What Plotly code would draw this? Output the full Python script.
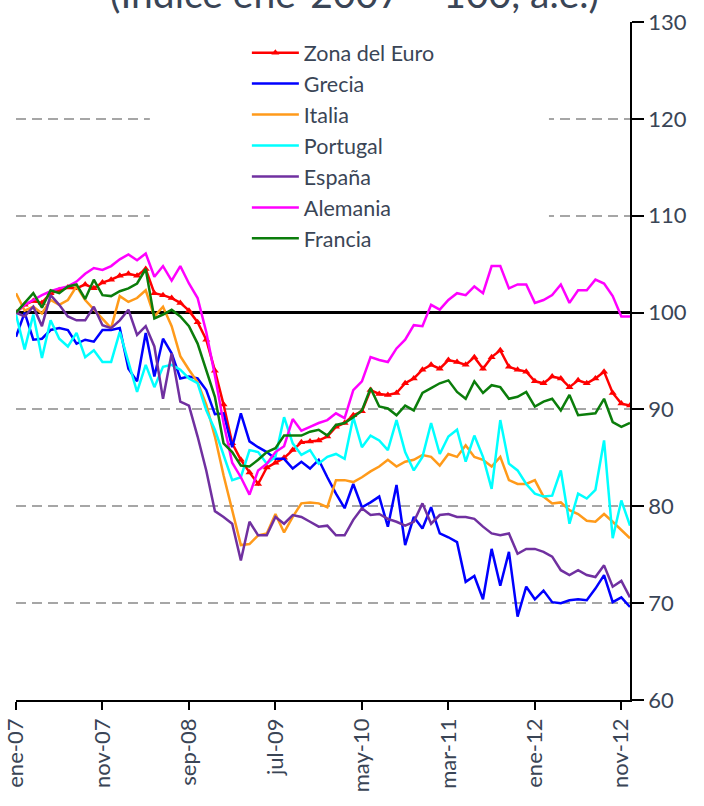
import plotly.graph_objects as go

months = ["ene", "feb", "mar", "abr", "may", "jun", "jul", "ago", "sep", "oct", "nov", "dic"]
categories = [f"{m}-{y:02d}" for y in range(7, 13) for m in months]
tick_labels = categories[::10]
base_level = [100.0] * len(categories)

zona_euro = [
    100.0, 100.8, 101.2, 101.0, 102.0, 102.3, 102.6, 102.5, 102.9, 102.5, 103.1, 103.4,
    103.8, 104.0, 103.8, 104.5, 102.0, 101.8, 101.5, 101.0, 100.2, 99.0, 97.2, 94.0,
    90.5, 86.5, 84.8, 83.5, 82.3, 84.0, 84.5, 85.0, 85.8, 86.6, 86.7, 86.8,
    87.2, 88.2, 88.6, 89.4, 89.8, 92.0, 91.6, 91.5, 91.7, 92.7, 93.2, 94.1,
    94.6, 94.2, 95.1, 94.9, 94.6, 95.4, 94.2, 95.4, 96.1, 94.4, 94.1, 93.9,
    92.9, 92.7, 93.4, 93.2, 92.3, 93.0, 92.7, 93.2, 93.9, 91.7, 90.6, 90.4]

grecia = [
    97.5, 100.0, 97.2, 97.3, 98.2, 98.4, 98.2, 96.8, 97.2, 97.0, 98.2, 98.2,
    98.4, 94.2, 92.9, 97.9, 93.4, 97.3, 95.8, 93.2, 93.4, 93.2, 92.0, 89.5,
    89.6, 86.1, 89.6, 86.7, 86.1, 85.6, 84.9, 84.9, 83.9, 84.6, 83.9, 84.8,
    83.0, 81.3, 79.8, 82.3, 79.9, 80.4, 81.0, 77.9, 82.2, 76.0, 78.9, 77.7,
    79.9, 77.2, 76.8, 76.3, 72.2, 72.8, 70.4, 75.6, 71.8, 75.3, 68.6, 71.7,
    70.4, 71.3, 70.1, 70.0, 70.3, 70.4, 70.3, 71.5, 72.9, 70.1, 70.6, 69.6]

italia = [
    102.0, 100.2, 100.6, 99.9, 101.3, 100.8, 101.3, 102.7, 101.3, 100.3, 99.4, 98.4,
    101.7, 101.1, 101.5, 102.3, 99.6, 100.6, 98.6, 95.5, 94.1, 92.8, 90.5, 87.2,
    83.2, 79.5, 76.0, 76.1, 77.0, 77.2, 79.2, 77.3, 78.9, 80.3, 80.4, 80.3,
    79.9, 82.7, 82.7, 82.5, 83.0, 83.6, 84.1, 84.8, 84.1, 84.6, 84.8, 85.3,
    85.1, 84.2, 85.4, 85.1, 86.3, 85.1, 84.8, 84.1, 85.1, 82.7, 82.3, 82.3,
    82.7, 81.0, 80.3, 80.4, 79.6, 79.2, 78.5, 78.4, 79.2, 78.4, 77.5, 76.7]

portugal = [
    99.8, 96.2, 99.8, 95.3, 99.2, 97.3, 96.5, 97.9, 95.4, 96.1, 94.9, 94.9,
    98.0, 94.8, 91.8, 94.6, 92.3, 94.4, 94.6, 94.1, 93.2, 92.7, 89.9, 87.9,
    85.4, 82.7, 83.0, 85.8, 85.6, 84.4, 85.1, 89.2, 86.5, 85.3, 85.8, 84.4,
    85.1, 85.4, 84.9, 89.2, 86.1, 87.3, 86.8, 85.8, 88.9, 85.6, 83.7, 85.1,
    88.6, 85.4, 87.2, 87.9, 84.6, 87.3, 85.1, 81.8, 88.9, 84.4, 83.7, 82.3,
    81.3, 81.0, 81.1, 83.7, 78.2, 81.3, 80.8, 81.7, 86.8, 76.7, 80.6, 78.0]

espana = [
    100.0, 99.6, 100.6, 98.6, 101.8, 100.8, 99.6, 99.2, 99.2, 100.6, 98.7, 98.4,
    99.2, 100.3, 97.7, 98.6, 96.5, 91.1, 95.8, 90.8, 90.4, 87.2, 83.7, 79.5,
    78.9, 78.2, 74.4, 78.4, 77.0, 77.0, 78.9, 78.2, 79.1, 78.9, 78.4, 77.9,
    78.0, 77.0, 77.0, 78.6, 79.8, 79.1, 79.2, 78.7, 78.4, 78.0, 78.4, 80.3,
    78.2, 79.1, 79.2, 78.9, 78.9, 78.7, 77.9, 77.2, 77.0, 77.2, 75.1, 75.6,
    75.6, 75.3, 74.8, 73.4, 72.9, 73.4, 72.9, 72.7, 73.9, 71.7, 72.3, 70.6]

alemania = [
    100.0, 100.8, 101.3, 101.8, 102.2, 102.5, 102.7, 103.2, 104.0, 104.6, 104.4, 104.8,
    105.5, 106.0, 105.4, 106.1, 103.7, 104.8, 103.3, 104.8, 103.0, 101.5, 98.0, 93.5,
    88.6, 84.5, 83.0, 81.2, 83.7, 84.4, 85.6, 86.2, 89.0, 87.8, 88.2, 88.6,
    88.9, 89.6, 89.1, 92.0, 92.9, 95.4, 95.1, 94.9, 96.3, 97.2, 98.7, 98.6,
    100.8, 100.3, 101.3, 102.0, 101.8, 102.7, 102.0, 104.8, 104.8, 102.5, 102.9, 102.9,
    101.0, 101.3, 101.8, 102.9, 101.0, 102.3, 102.3, 103.4, 103.0, 101.7, 99.6, 99.6]

francia = [
    100.0, 101.0, 102.0, 100.5, 102.3, 102.0, 102.7, 102.9, 101.4, 103.4, 101.8, 101.7,
    102.2, 102.5, 103.0, 104.5, 99.4, 99.8, 100.3, 99.6, 98.6, 96.8, 94.0, 91.3,
    86.5, 85.6, 84.2, 84.1, 84.8, 85.6, 86.0, 87.3, 87.3, 87.3, 87.7, 87.9,
    87.3, 88.4, 88.6, 89.2, 89.9, 92.2, 90.3, 90.1, 89.4, 90.4, 89.9, 91.7,
    92.2, 92.7, 93.0, 91.8, 91.1, 92.9, 91.7, 92.5, 92.3, 91.1, 91.3, 91.8,
    90.3, 90.8, 91.1, 89.9, 91.5, 89.4, 89.5, 89.6, 91.1, 88.7, 88.2, 88.6]

series = [
    ("Zona del Euro", zona_euro, "#ff0000"),
    ("Grecia", grecia, "#0000ff"),
    ("Italia", italia, "#ff9a1a"),
    ("Portugal", portugal, "#00ffff"),
    ("España", espana, "#7030a0"),
    ("Alemania", alemania, "#ff00ff"),
    ("Francia", francia, "#0b7d0b"),
]

TEXT = "#3a4556"
FONT = "Lato"

fig = go.Figure()
# base reference line at 100 (drawn first, below the series)
fig.add_trace(go.Scatter(x=categories, y=base_level, mode="lines", showlegend=False,
                         hoverinfo="skip", line=dict(color="black", width=3)))
for name, vals, col in series:
    if name == "Zona del Euro":
        fig.add_trace(go.Scatter(
            x=categories, y=vals, name=name, mode="lines+markers",
            line=dict(color=col, width=2.5),
            marker=dict(symbol="triangle-up", size=7, color=col)))
    else:
        fig.add_trace(go.Scatter(
            x=categories, y=vals, name=name, mode="lines",
            line=dict(color=col, width=2.5)))

# white area behind the legend hides the gridlines there (no data in this region)
fig.add_shape(type="rect", xref="paper", yref="y", x0=0.218, x1=0.868, y0=107, y1=126,
              fillcolor="white", line=dict(width=0), layer="above")

fig.add_annotation(text="(Índice ene-2007 = 100, a.e.)", xref="paper", yref="paper",
                   x=0.552, y=1.006, xanchor="center", yanchor="bottom", showarrow=False,
                   font=dict(family=FONT, size=39, color=TEXT))

fig.update_layout(
    width=704, height=806,
    margin=dict(l=16, r=74, t=22, b=106, autoexpand=False),
    paper_bgcolor="white", plot_bgcolor="white",
    font=dict(family=FONT, color=TEXT),
    showlegend=True,
    legend=dict(x=0.376, y=0.985, xanchor="left", yanchor="top",
                bgcolor="rgba(0,0,0,0)", font=dict(family=FONT, size=21.5, color=TEXT),
                itemwidth=47, tracegroupgap=0),
    xaxis=dict(type="category", range=[0, 71], tickmode="array", tickvals=tick_labels,
               ticktext=tick_labels, tickangle=-90, ticks="outside", ticklen=8,
               tickwidth=1.5, tickcolor="black", showline=True, linecolor="black",
               linewidth=1.5, showgrid=False, automargin=False,
               tickfont=dict(family=FONT, size=22, color=TEXT)),
    yaxis=dict(side="right", range=[60, 130], dtick=10, ticks="outside", ticklen=12,
               tickwidth=1.5, tickcolor="black", showline=True, linecolor="black",
               linewidth=1.5, showgrid=True, gridcolor="#a6a6a6", gridwidth=1.5,
               griddash="10px,6px", zeroline=False, automargin=False,
               tickfont=dict(family=FONT, size=22, color=TEXT)),
)

fig.write_html("out.html", config={"displayModeBar": False},
               post_script="document.body.style.margin='0';")
